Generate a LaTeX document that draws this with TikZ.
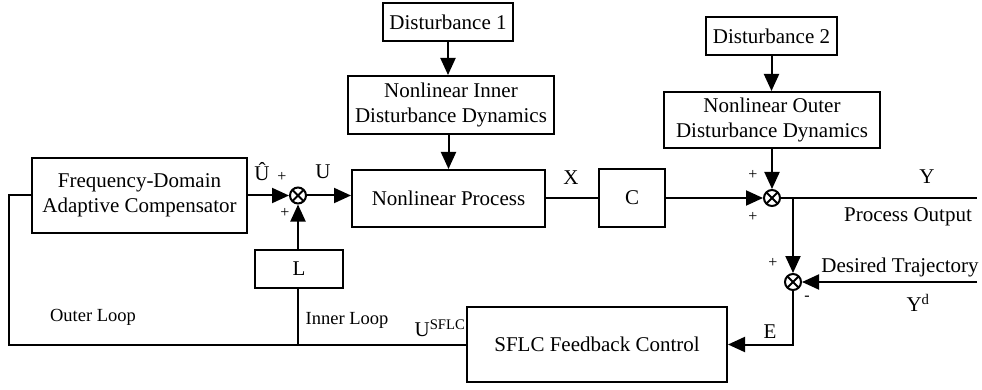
\documentclass[tikz,border=0pt]{standalone}
\usepackage{fontspec}
\setmainfont{Liberation Serif}
\usetikzlibrary{arrows.meta}
\begin{document}
\begin{tikzpicture}[x=1pt,y=-1pt,
  box/.style={draw, line width=2pt, inner sep=0pt, align=center, font=\fontsize{21}{25}\selectfont},
  conn/.style={line width=2pt},
  arr/.style={conn, -{Triangle[length=17pt,width=15pt]}},
  sumj/.style={circle, draw, line width=2pt, minimum size=16pt, inner sep=0pt,
    path picture={\draw[line width=1.8pt] (path picture bounding box.north west) -- (path picture bounding box.south east)
      (path picture bounding box.north east) -- (path picture bounding box.south west);}},
  lbl/.style={font=\fontsize{21}{25}\selectfont, inner sep=0pt},
  sml/.style={font=\fontsize{18.5}{22}\selectfont, inner sep=0pt},
  pm/.style={font=\fontsize{16}{16}\selectfont, inner sep=0pt}]
\useasboundingbox (0,0) rectangle (982,390);
% blocks
\node[box, minimum width=130pt, minimum height=38pt] (d1) at (448,22) {Disturbance 1};
\node[box, minimum width=206pt, minimum height=58pt] (inner) at (451,105) {Nonlinear Inner\\Disturbance Dynamics};
\node[box, minimum width=193pt, minimum height=57pt] (proc) at (448.5,198.5) {Nonlinear Process};
\node[box, minimum width=131pt, minimum height=38pt] (d2) at (771.5,36) {Disturbance 2};
\node[box, minimum width=216pt, minimum height=56pt] (outer) at (772,120) {Nonlinear Outer\\Disturbance Dynamics};
\node[box, minimum width=66pt, minimum height=58pt] (C) at (632,198) {C};
\node[box, minimum width=215pt, minimum height=75pt] (adapt) at (139.5,195.5) {Frequency-Domain\\Adaptive Compensator};
\node[box, minimum width=88pt, minimum height=38pt] (L) at (299,269) {L};
\node[box, minimum width=260pt, minimum height=75pt] (sflc) at (597,344.5) {SFLC Feedback Control};
% summing junctions
\node[sumj] (sL) at (298,195.5) {};
\node[sumj] (sR) at (772,198) {};
\node[sumj] (s2) at (793,282) {};
% free ends
\coordinate (out) at (977,198);
\coordinate (br) at (793,198);
\coordinate (din) at (977,282);
\coordinate (lc) at (9,195.5);
% connectors
\draw[arr] (d1.south) -- (d1.south |- inner.north);
\draw[arr] (proc.north |- inner.south) -- (proc.north);
\draw[arr] (d2.south) -- (d2.south |- outer.north);
\draw[arr] (outer.south) -- (sR.north);
\draw[arr] (adapt.east) -- (sL.west);
\draw[arr] (sL.east) -- (sL.east -| proc.west);
\draw[arr] (sL.south |- L.north) -- (sL.south);
\draw[conn] (proc.east) -- (proc.east -| C.west);
\draw[arr] (C.east) -- (sR.west);
\draw[conn] (sR.east) -- (out);
\draw[arr] (br) -- (s2.north);
\draw[arr] (din) -- (s2.east);
\draw[arr] (s2.south) |- (sflc.east);
\draw[conn] (sflc.west) -| (lc) -- (adapt.west);
\draw[conn] (sL.south |- L.south) -- (sL.south |- sflc.west);
% labels
\node[lbl] (lUh) at (262,172) {\^{U}};
\node[pm] (p1) at (282,177) {+};
\node[lbl] (lU) at (323,172) {U};
\node[pm] (p2) at (285,213) {+};
\node[lbl] (lX) at (571,178) {X};
\node[pm] (p3) at (753,175) {+};
\node[pm] (p4) at (753,217) {+};
\node[lbl] (lY) at (927,177) {Y};
\node[lbl] (lPO) at (908,217) {Process Output};
\node[pm] (p5) at (773,263) {+};
\node[lbl] (lDT) at (900,267) {Desired Trajectory};
\node[pm] (m1) at (807,298) {-};
\node[lbl] (lYd) at (918,303) {Y\textsuperscript{d}};
\node[lbl] (lE) at (770,332) {E};
\node[lbl] (lUs) at (440,328) {U\textsuperscript{SFLC}};
\node[sml] (lIL) at (347,320) {Inner Loop};
\node[sml] (lOL) at (93,317) {Outer Loop};
\end{tikzpicture}
\end{document}
